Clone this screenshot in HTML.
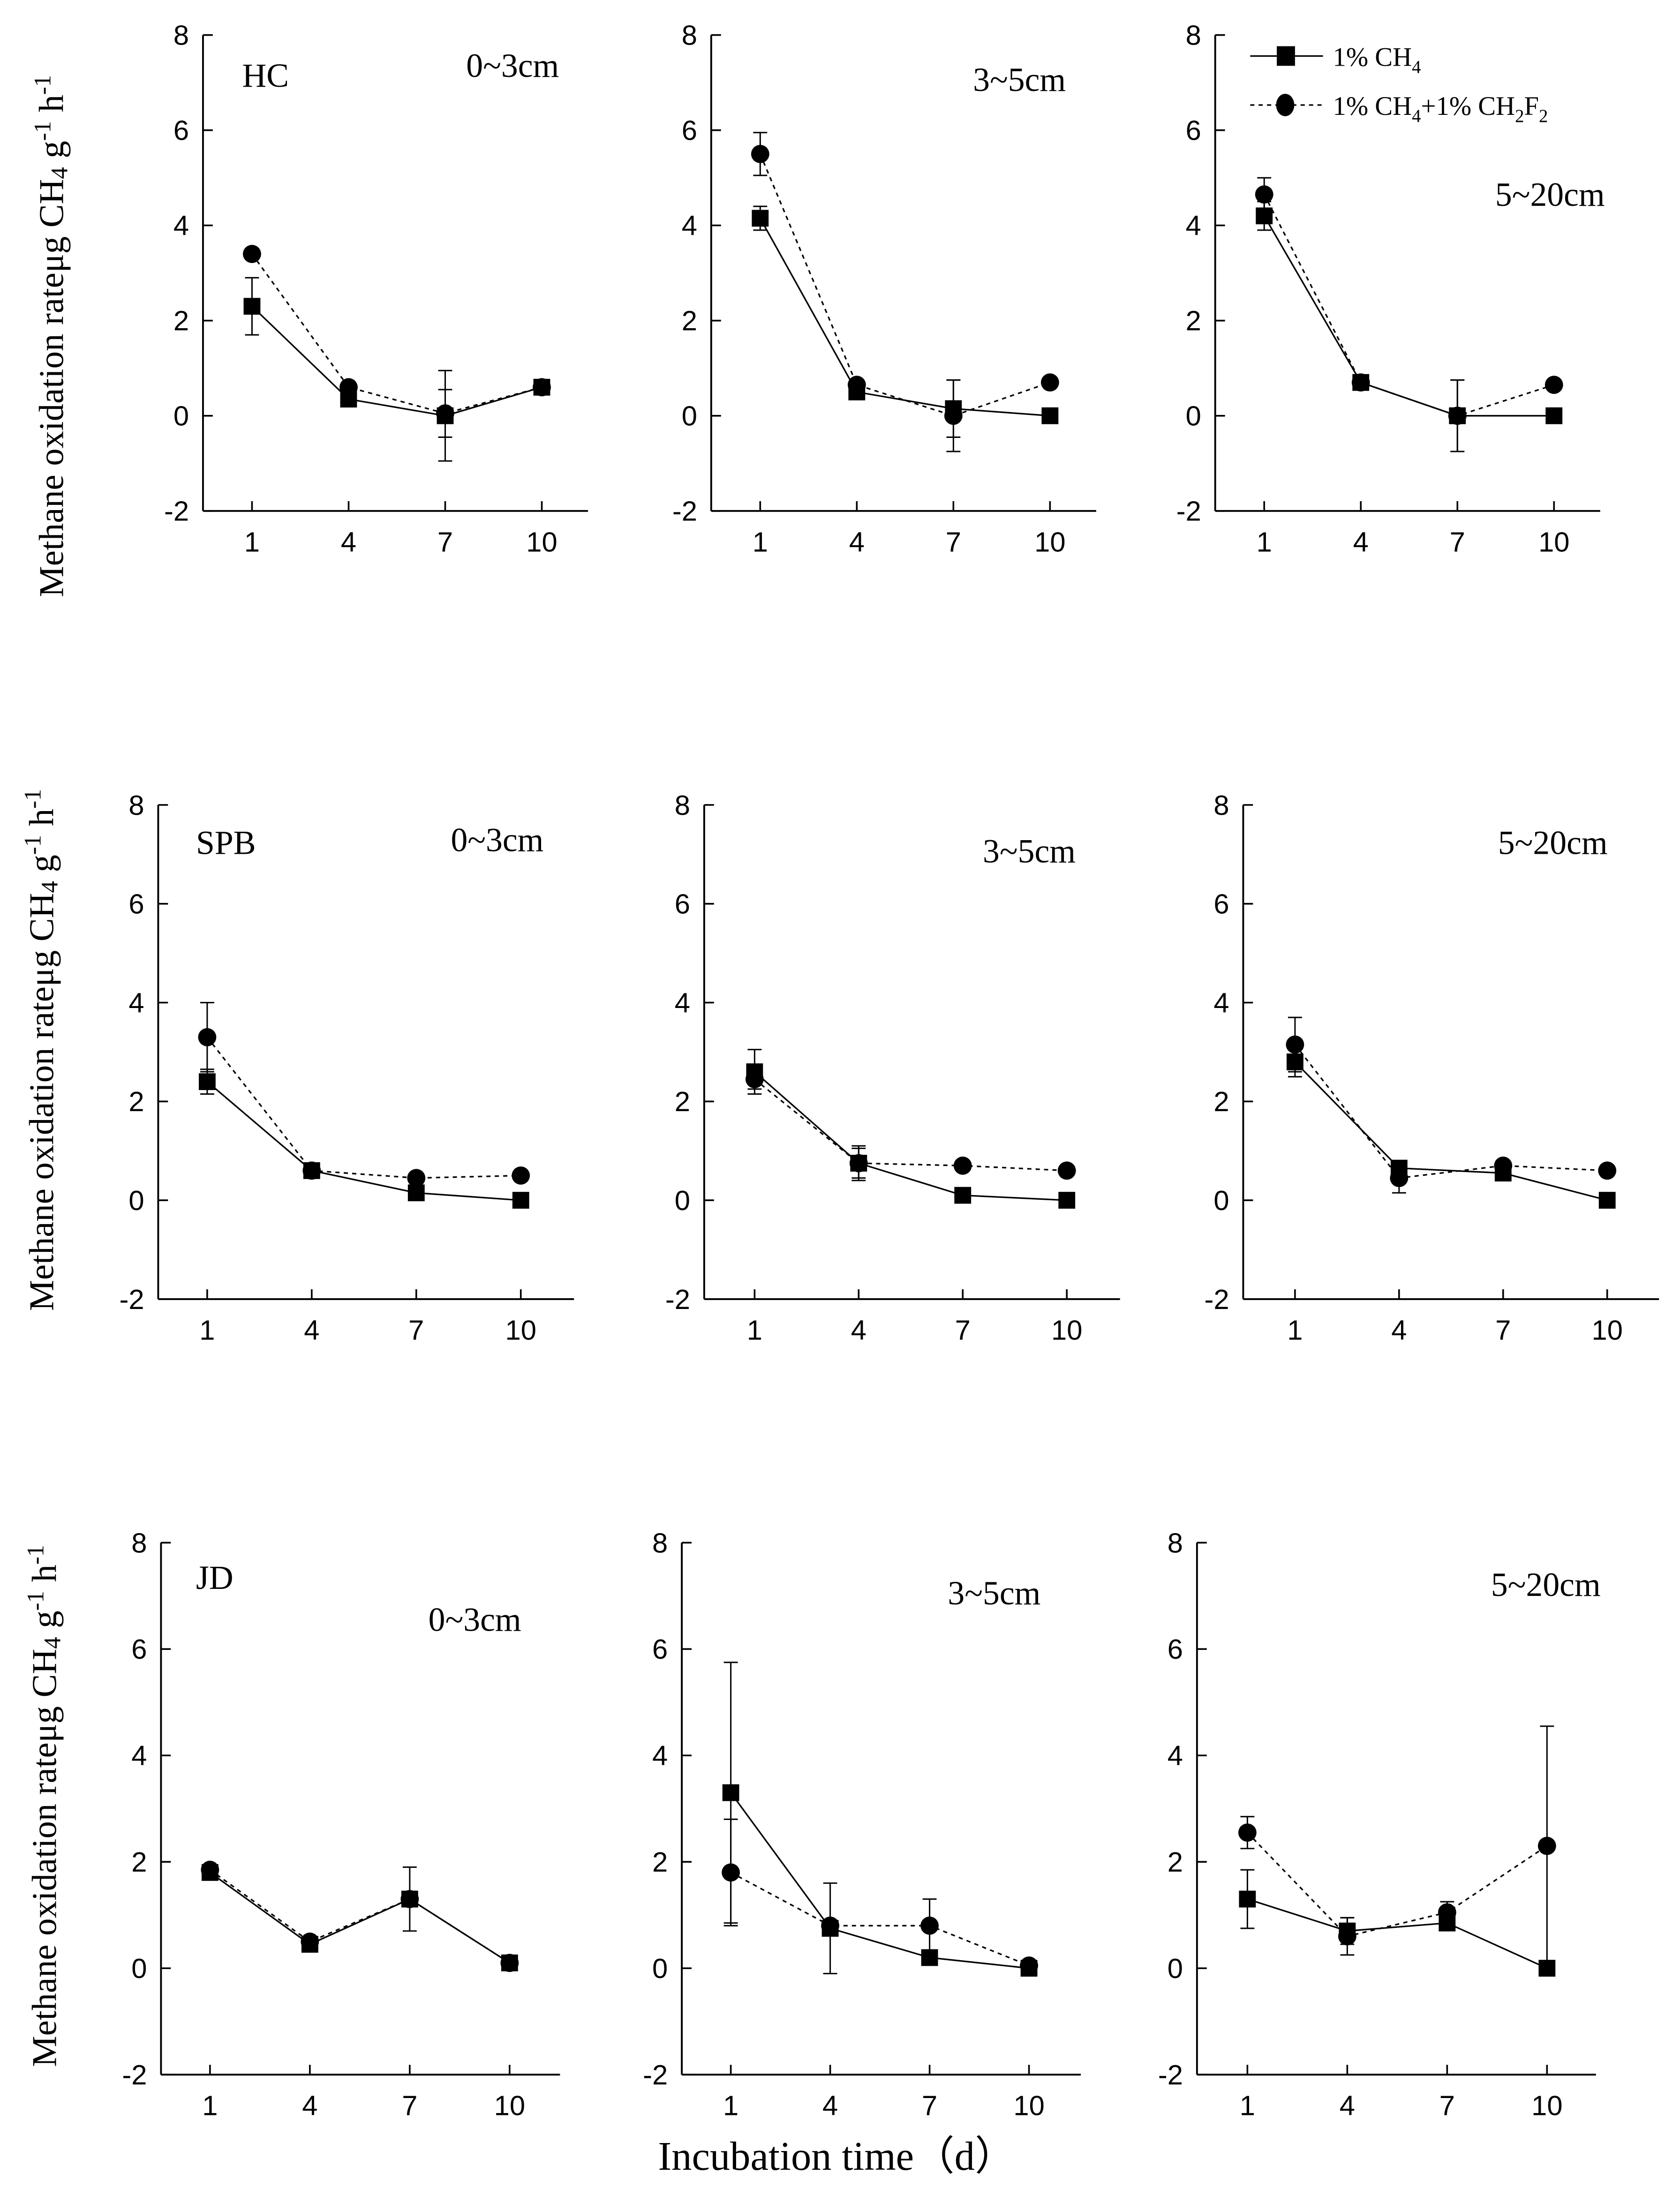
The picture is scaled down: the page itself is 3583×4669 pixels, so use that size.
<!DOCTYPE html>
<html><head><meta charset="utf-8">
<style>
html,body{margin:0;padding:0;background:#fff;}
svg{display:block;}
text{font-family:"Liberation Serif",serif;fill:#000;}
.tick{font-family:"Liberation Sans",sans-serif;}
</style></head>
<body>
<svg id="chart" xmlns="http://www.w3.org/2000/svg" width="3583" height="4669" viewBox="0 0 1200 1563.7">
<rect x="0" y="0" width="1200" height="1563.7" fill="#fff"/>
</svg>
<script>
// Data arrays
const days = [1, 4, 7, 10];
const yTicks = [-2, 0, 2, 4, 6, 8];
const siteLabels = ["HC", "SPB", "JD"];
const depthLabels = ["0~3cm", "3~5cm", "5~20cm"];
// square series (1% CH4), row-major panels
const sqVals = [
 [2.3,0.35,0.0,0.6],[4.15,0.5,0.15,0.0],[4.2,0.7,0.0,0.0],
 [2.4,0.6,0.15,0.0],[2.6,0.75,0.1,0.0],[2.8,0.65,0.55,0.0],
 [1.8,0.45,1.3,0.1],[3.3,0.75,0.2,0.0],[1.3,0.7,0.85,0.0]];
const sqErr = [
 [0.6,0.1,0.95,0.05],[0.25,0.1,0.6,0],[0.3,0.05,0.75,0],
 [0.25,0.05,0.05,0],[0.45,0.35,0.05,0],[0.3,0.1,0.05,0],
 [0.1,0.05,0.6,0.05],[2.45,0.85,0.1,0],[0.55,0.25,0.1,0]];
// circle series (1% CH4 + 1% CH2F2)
const ciVals = [
 [3.4,0.6,0.05,0.6],[5.5,0.65,0.0,0.7],[4.65,0.7,0.0,0.65],
 [3.3,0.6,0.45,0.5],[2.45,0.75,0.7,0.6],[3.15,0.45,0.7,0.6],
 [1.85,0.5,1.3,0.1],[1.8,0.8,0.8,0.05],[2.55,0.6,1.05,2.3]];
const ciErr = [
 [0.05,0.05,0.5,0.05],[0.45,0.1,0.75,0.05],[0.35,0.05,0.75,0.05],
 [0.7,0.05,0.05,0.05],[0.2,0.3,0.05,0.05],[0.55,0.3,0.1,0.05],
 [0.05,0.05,0.05,0.05],[1.0,0.1,0.5,0.05],[0.3,0.35,0.2,2.25]];

// layout (viewBox units)
const rows = [{top:25,bot:365},{top:575,bot:928},{top:1102,bot:1482}];
const panelLefts = [[145,508,868],[113,503,888],[115,487,855]];
const panelWidths = [[275,275,275],[297,297,297],[285,285,285]];
const firstTickOff = [[35,35,35],[35,36,37],[35,35,36]];
const lastTickOff = [[242,242,242],[259,259,260],[249,248,250]];
const siteLabelPos = [[173,62],[140,610],[140,1135]];
const depthLabelPos = [[[333,55],[695,65],[1068,147]],[[322,608],[702,616],[1070,610]],[[306,1165],[677,1146],[1065,1140]]];

const svg = document.getElementById('chart');
const NS = 'http://www.w3.org/2000/svg';
function mk(tag, attrs, parent){
  const e = document.createElementNS(NS, tag);
  for (const k in attrs) e.setAttribute(k, attrs[k]);
  (parent||svg).appendChild(e); return e;
}

for (let r=0;r<3;r++){
  for (let c=0;c<3;c++){
    const p = r*3+c;
    const g = mk('g',{});
    
    
    const L = panelLefts[r][c], W = panelWidths[r][c];
    const top = rows[r].top, bot = rows[r].bot;
    const yS = v => bot - (v - (-2)) / 10 * (bot - top);
    const x0 = L + firstTickOff[r][c], x1 = L + lastTickOff[r][c];
    const xS = d => x0 + (d - 1) / 9 * (x1 - x0);
    // axes
    const ya = mk('line',{x1:L,y1:top,x2:L,y2:bot,stroke:'#000','stroke-width':1.3},g);
    
    
    const xa = mk('line',{x1:L,y1:bot,x2:L+W,y2:bot,stroke:'#000','stroke-width':1.3},g);
    
    
    yTicks.forEach(t=>{
      const y = yS(t);
      mk('line',{x1:L,y1:y,x2:L+7,y2:y,stroke:'#000','stroke-width':1.2},g);
      const tx = mk('text',{x:L-10,y:y+7,'text-anchor':'end','font-size':20,class:'tick'},g);
      tx.textContent = t;
      
      
    });
    days.forEach(d=>{
      const x = xS(d);
      mk('line',{x1:x,y1:bot,x2:x,y2:bot-7,stroke:'#000','stroke-width':1.2},g);
      const tx = mk('text',{x:x,y:bot+29,'text-anchor':'middle','font-size':20,class:'tick'},g);
      tx.textContent = d;
      
      
    });
    // series
    const series = [
      {v:sqVals[p], e:sqErr[p], dash:null, shape:'sq', name:'series-ch4'},
      {v:ciVals[p], e:ciErr[p], dash:'3,3', shape:'ci', name:'series-ch4-ch2f2'}];
    series.forEach(s=>{
      const pts = days.map((d,i)=>xS(d)+','+yS(s.v[i])).join(' ');
      const pl = mk('polyline',{points:pts,fill:'none',stroke:'#000','stroke-width':1.1},g);
      if (s.dash) pl.setAttribute('stroke-dasharray', s.dash);
      
      
      days.forEach((d,i)=>{
        const x = xS(d), y = yS(s.v[i]);
        if (s.e[i] > 0.06){
          const yt = yS(s.v[i]+s.e[i]), yb = yS(s.v[i]-s.e[i]);
          const eb = mk('path',{d:`M${x},${yt}V${yb}M${x-5},${yt}H${x+5}M${x-5},${yb}H${x+5}`,stroke:'#000','stroke-width':1,fill:'none'},g);
          
          
        }
        let m;
        if (s.shape==='sq') m = mk('rect',{x:x-6,y:y-6,width:12,height:12,fill:'#000'},g);
        else m = mk('circle',{cx:x,cy:y,r:6.5,fill:'#000'},g);
        
        
      });
    });
    const dl = mk('text',{x:depthLabelPos[r][c][0],y:depthLabelPos[r][c][1],'font-size':24},g);
    dl.textContent = depthLabels[c];
    
    
  }
  const sl = mk('text',{x:siteLabelPos[r][0],y:siteLabelPos[r][1],'font-size':24});
  sl.textContent = siteLabels[r];
  
  
}
</script>
<svg style="position:absolute;left:0;top:0" width="3583" height="4669" viewBox="0 0 1200 1563.7">
  <g>
    <line x1="893" y1="40" x2="945" y2="40" stroke="#000" stroke-width="1.1"/>
    <rect x="912" y="33" width="13" height="14" fill="#000"/>
    <text x="952" y="47" font-size="19">1% CH<tspan font-size="13" dy="5">4</tspan></text>
    <line x1="893" y1="75" x2="945" y2="75" stroke="#000" stroke-width="1.1" stroke-dasharray="3,3"/>
    <ellipse cx="918" cy="75" rx="6.5" ry="8" fill="#000"/>
    <text x="952" y="82" font-size="19">1% CH<tspan font-size="13" dy="5">4</tspan><tspan dy="-5">+1% CH</tspan><tspan font-size="13" dy="5">2</tspan><tspan dy="-5">F</tspan><tspan font-size="13" dy="5">2</tspan></text>
  </g>
  <text transform="translate(45,240) rotate(-90)" text-anchor="middle" font-size="25">Methane oxidation rateμg CH<tspan font-size="17" dy="3">4</tspan><tspan dy="-3"> g</tspan><tspan font-size="17" dy="-9">-1</tspan><tspan dy="9"> h</tspan><tspan font-size="17" dy="-9">-1</tspan></text>
  <text transform="translate(38,750) rotate(-90)" text-anchor="middle" font-size="25">Methane oxidation rateμg CH<tspan font-size="17" dy="3">4</tspan><tspan dy="-3"> g</tspan><tspan font-size="17" dy="-9">-1</tspan><tspan dy="9"> h</tspan><tspan font-size="17" dy="-9">-1</tspan></text>
  <text transform="translate(40,1290) rotate(-90)" text-anchor="middle" font-size="25">Methane oxidation rateμg CH<tspan font-size="17" dy="3">4</tspan><tspan dy="-3"> g</tspan><tspan font-size="17" dy="-9">-1</tspan><tspan dy="9"> h</tspan><tspan font-size="17" dy="-9">-1</tspan></text>
  <text x="470" y="1550" font-size="29">Incubation time（d）</text>
</svg>
</body></html>
